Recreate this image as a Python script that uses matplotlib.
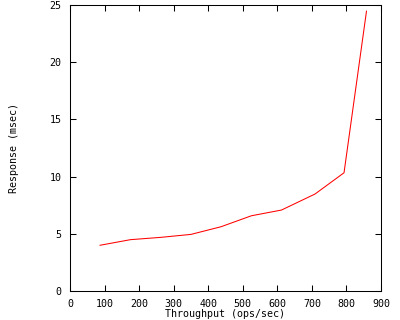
import matplotlib
matplotlib.use("Agg")
import matplotlib.pyplot as plt

# throughput (ops/sec) vs response time (msec)
throughput = [87, 175, 262, 350, 437, 525, 612, 709, 793, 858]
response = [4.0, 4.49, 4.69, 4.95, 5.62, 6.58, 7.08, 8.48, 10.34, 24.47]

xticks = [0, 100, 200, 300, 400, 500, 600, 700, 800, 900]
yticks = [0, 5, 10, 15, 20, 25]

plt.rcParams['font.family'] = ['DejaVu Sans Mono']
plt.rcParams['font.size'] = 7.2

fig = plt.figure(figsize=(4, 3.2), dpi=100)
ax = fig.add_axes([0.175, 0.0906, 0.7775, 0.8934])

ax.plot(throughput, response, color='#ff0000', lw=0.75)

ax.set_xlim(0, 900)
ax.set_ylim(0, 25)
ax.set_xticks(xticks)
ax.set_yticks(yticks)

ax.tick_params(direction='in', length=4, width=0.75, top=True, right=True, pad=6)
for s in ax.spines.values():
    s.set_linewidth(0.75)

ax.set_xlabel('Throughput (ops/sec)', labelpad=0)
ax.set_ylabel('Response (msec)', labelpad=22)

fig.savefig('out.png', dpi=100)
